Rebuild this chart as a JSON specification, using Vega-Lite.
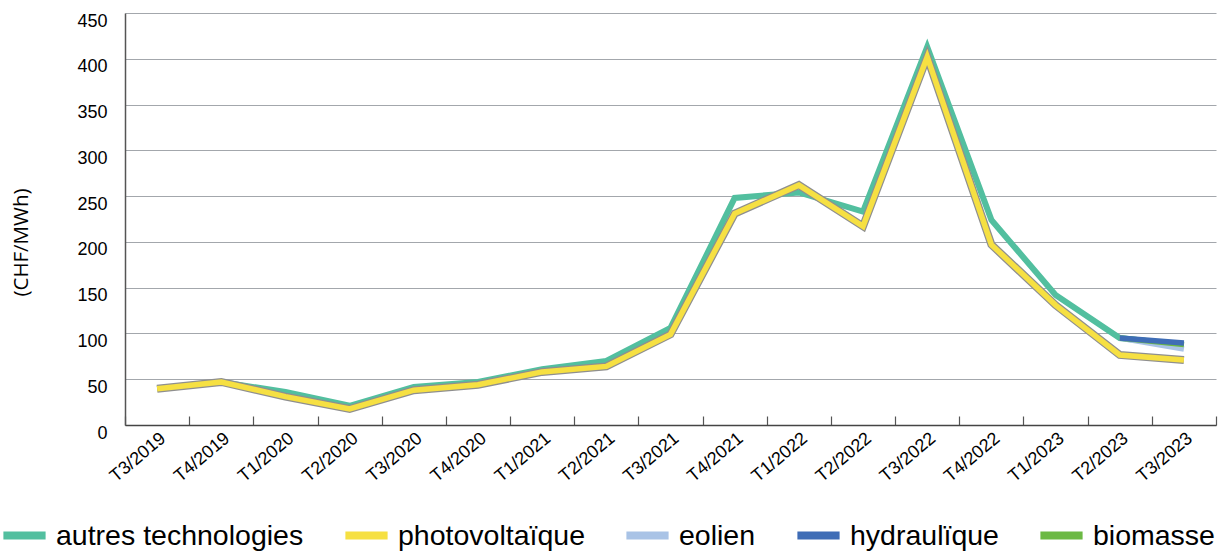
{
  "$schema": "https://vega.github.io/schema/vega-lite/v6.json",
  "width": 1091,
  "height": 412,
  "autosize": {"type": "none"},
  "padding": {"left": 125, "top": 13, "right": 11, "bottom": 126},
  "background": "white",
  "config": {"view": {"stroke": null}, "font": "Liberation Sans"},
  "data": {"values": [
    {"q": "T3/2019", "s": "autres technologies", "v": 40},
    {"q": "T4/2019", "s": "autres technologies", "v": 47},
    {"q": "T1/2020", "s": "autres technologies", "v": 36},
    {"q": "T2/2020", "s": "autres technologies", "v": 21},
    {"q": "T3/2020", "s": "autres technologies", "v": 41.5},
    {"q": "T4/2020", "s": "autres technologies", "v": 47},
    {"q": "T1/2021", "s": "autres technologies", "v": 61},
    {"q": "T2/2021", "s": "autres technologies", "v": 70},
    {"q": "T3/2021", "s": "autres technologies", "v": 106},
    {"q": "T4/2021", "s": "autres technologies", "v": 248},
    {"q": "T1/2022", "s": "autres technologies", "v": 254},
    {"q": "T2/2022", "s": "autres technologies", "v": 233},
    {"q": "T3/2022", "s": "autres technologies", "v": 413},
    {"q": "T4/2022", "s": "autres technologies", "v": 224},
    {"q": "T1/2023", "s": "autres technologies", "v": 142},
    {"q": "T2/2023", "s": "autres technologies", "v": 95},
    {"q": "T3/2023", "s": "autres technologies", "v": 87},
    {"q": "T3/2019", "s": "photovoltaïque", "v": 39.5},
    {"q": "T4/2019", "s": "photovoltaïque", "v": 47},
    {"q": "T1/2020", "s": "photovoltaïque", "v": 31},
    {"q": "T2/2020", "s": "photovoltaïque", "v": 17.5},
    {"q": "T3/2020", "s": "photovoltaïque", "v": 38},
    {"q": "T4/2020", "s": "photovoltaïque", "v": 44},
    {"q": "T1/2021", "s": "photovoltaïque", "v": 58},
    {"q": "T2/2021", "s": "photovoltaïque", "v": 64},
    {"q": "T3/2021", "s": "photovoltaïque", "v": 99},
    {"q": "T4/2021", "s": "photovoltaïque", "v": 231},
    {"q": "T1/2022", "s": "photovoltaïque", "v": 262},
    {"q": "T2/2022", "s": "photovoltaïque", "v": 217},
    {"q": "T3/2022", "s": "photovoltaïque", "v": 402},
    {"q": "T4/2022", "s": "photovoltaïque", "v": 197},
    {"q": "T1/2023", "s": "photovoltaïque", "v": 131},
    {"q": "T2/2023", "s": "photovoltaïque", "v": 76.5},
    {"q": "T3/2023", "s": "photovoltaïque", "v": 71},
    {"q": "T2/2023", "s": "eolien", "v": 95},
    {"q": "T3/2023", "s": "eolien", "v": 83},
    {"q": "T2/2023", "s": "biomasse", "v": 95},
    {"q": "T3/2023", "s": "biomasse", "v": 88},
    {"q": "T2/2023", "s": "hydraulïque", "v": 95},
    {"q": "T3/2023", "s": "hydraulïque", "v": 89.5}
  ]},
  "encoding": {
    "x": {
      "field": "q", "type": "ordinal", "bandPosition": 0.5,
      "scale": {"type": "band", "paddingInner": 0, "paddingOuter": 0,
        "domain": ["T3/2019","T4/2019","T1/2020","T2/2020","T3/2020","T4/2020","T1/2021","T2/2021","T3/2021","T4/2021","T1/2022","T2/2022","T3/2022","T4/2022","T1/2023","T2/2023","T3/2023"]},
      "axis": {
        "title": null, "labelAngle": -40, "labelAlign": "right", "labelBaseline": "top",
        "labelFontSize": 18, "labelColor": "#000000", "labelPadding": 13,
        "tickBand": "extent", "tickSize": -9, "tickColor": "#555555", "tickWidth": 1.2,
        "domainColor": "#444444", "domainWidth": 1.5, "grid": false
      }
    },
    "y": {
      "field": "v", "type": "quantitative",
      "scale": {"domain": [0, 450], "nice": false},
      "axis": {
        "title": "(CHF/MWh)", "titleFont": "Open Sans", "titleFontSize": 20.5, "titleFontWeight": "normal",
        "titleColor": "#000000", "titlePadding": 45, "titleY": 229,
        "values": [0, 50, 100, 150, 200, 250, 300, 350, 400, 450],
        "labelFontSize": 18, "labelColor": "#000000", "labelPadding": 18, "labelOffset": 8,
        "ticks": false, "domainColor": "#555555", "domainWidth": 1.5,
        "grid": true, "gridColor": "#a3a7ac", "gridWidth": 1.2
      }
    }
  },
  "layer": [
    {
      "transform": [{"filter": "datum.s === 'autres technologies'"}],
      "mark": {"type": "line", "strokeWidth": 6, "strokeJoin": "miter", "strokeCap": "butt"},
      "encoding": {
        "color": {
          "field": "s", "type": "nominal",
          "scale": {"domain": ["autres technologies", "photovoltaïque", "eolien", "hydraulïque", "biomasse"],
                    "range": ["#52bf9f", "#f6e042", "#a9c3e6", "#3f6db6", "#6cb944"]},
          "legend": {
            "orient": "none", "legendX": -122, "legendY": 501, "direction": "horizontal",
            "title": null, "labelFontSize": 28.5, "labelColor": "#000000", "labelOffset": 10,
            "columnPadding": 39, "symbolType": "M-1,-0.17H1V0.17H-1Z", "symbolSize": 1681,
            "labelLimit": 400,
            "encode": {"symbols": {"update": {"fill": {"scale": "color", "field": "value"}, "stroke": {"value": "#8f8f8f"}, "strokeWidth": {"value": 1.2}, "opacity": {"value": 1}}}}
          }
        }
      }
    },
    {
      "transform": [{"filter": "datum.s === 'photovoltaïque'"}],
      "mark": {"type": "line", "strokeWidth": 8, "strokeJoin": "miter", "strokeCap": "butt", "color": "#8f8f8f"}
    },
    {
      "transform": [{"filter": "datum.s !== 'autres technologies'"}],
      "mark": {"type": "line", "strokeWidth": 5.5, "strokeJoin": "miter", "strokeCap": "butt"},
      "encoding": {
        "color": {
          "field": "s", "type": "nominal",
          "scale": {"domain": ["autres technologies", "photovoltaïque", "eolien", "hydraulïque", "biomasse"],
                    "range": ["#52bf9f", "#f6e042", "#a9c3e6", "#3f6db6", "#6cb944"]},
          "legend": {
            "orient": "none", "legendX": -122, "legendY": 501, "direction": "horizontal",
            "title": null, "labelFontSize": 28.5, "labelColor": "#000000", "labelOffset": 10,
            "columnPadding": 39, "symbolType": "M-1,-0.17H1V0.17H-1Z", "symbolSize": 1681,
            "labelLimit": 400,
            "encode": {"symbols": {"update": {"fill": {"scale": "color", "field": "value"}, "stroke": {"value": "#8f8f8f"}, "strokeWidth": {"value": 1.2}, "opacity": {"value": 1}}}}
          }
        }
      }
    }
  ]
}
